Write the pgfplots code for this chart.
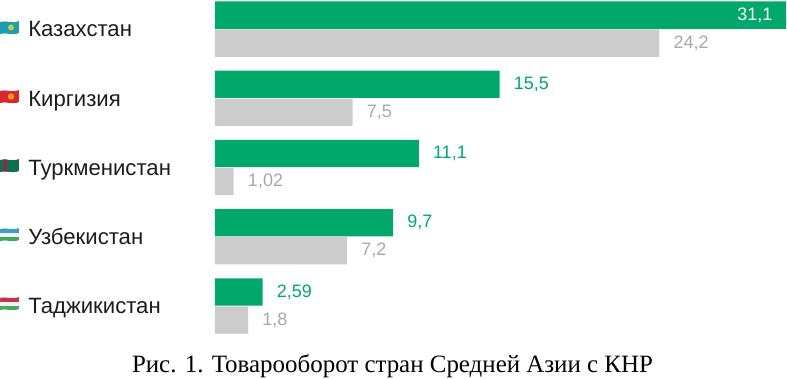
\documentclass[border=0pt]{standalone}
\usepackage{pgfplots}
\pgfplotsset{compat=1.18}
\usepackage{fontspec}
\setmainfont{Liberation Serif}
\newfontfamily\lab{Liberation Sans}
\definecolor{gr}{HTML}{00A86B}
\definecolor{gy}{HTML}{CCCCCC}
\definecolor{gyt}{HTML}{A8A8A8}
\definecolor{tx}{HTML}{1C1C1C}
\definecolor{kz}{HTML}{1F9DB0}
\definecolor{kzs}{HTML}{C8C84A}
\definecolor{kg}{HTML}{D8262C}
\definecolor{kgs}{HTML}{F0A020}
\definecolor{tm}{HTML}{0F7050}
\definecolor{tmr}{HTML}{8C2A4A}
\definecolor{uzb}{HTML}{3AA0C8}
\definecolor{uzg}{HTML}{3FA85C}
\definecolor{tjr}{HTML}{C8324A}
\definecolor{tjg}{HTML}{4AA860}
\definecolor{pale}{HTML}{F2F2F2}
\newcommand{\flagclip}{\clip (0,1) .. controls (6,-1) and (12,3) .. (19,0) -- (19,12) .. controls (12,15) and (6,11) .. (0,13) -- cycle;}
\begin{document}
\begin{tikzpicture}
\path[use as bounding box] (0,0) rectangle (590.25pt,283.5pt);
\begin{axis}[
  scale only axis, width=590.25pt, height=283.5pt,
  xmin=-11.71, xmax=31.155, ymin=-0.419, ymax=5.04,
  y dir=reverse, xbar, bar width=20.6pt,
  axis line style={draw=none}, major tick length=0pt,
  xtick=\empty, ytick={0,1,2,3,4},
  yticklabels={Казахстан,Киргизия,Туркменистан,Узбекистан,Таджикистан},
  yticklabel style={font=\lab\fontsize{16.6pt}{18pt}\selectfont, text=tx, anchor=west, inner sep=0pt, xshift=21pt, text height=11.9pt, text depth=0pt},
  clip=false,
  point meta=explicit symbolic,
  nodes near coords,
  every node near coord/.append style={font=\lab\fontsize{13.5pt}{15pt}\selectfont, inner sep=0pt, xshift=10.5pt, anchor=west},
]
\addplot[fill=gr, draw=none, bar shift=10.5pt,
  every node near coord/.append style={text=gr}]
 coordinates {(31.1,0)[] (15.5,1)[15,5] (11.1,2)[11,1] (9.7,3)[9,7] (2.59,4)[2,59]};
\addplot[fill=gy, draw=none, bar shift=-10.5pt,
  every node near coord/.append style={text=gyt}]
 coordinates {(24.2,0)[24,2] (7.5,1)[7,5] (1.02,2)[1,02] (7.2,3)[7,2] (1.8,4)[1,8]};
\addplot[fill=none, draw=none, bar shift=10.5pt,
  every node near coord/.append style={text=white, anchor=east, xshift=-20.5pt}]
 coordinates {(31.1,0)[31,1]};
\end{axis}
\begin{scope}[x=0.75pt,y=-0.75pt,yshift=283.5pt]
\node[anchor=base,font=\fontsize{18.7pt}{20pt}\selectfont] at (392.5,372) {Рис. 1. Товарооборот стран Средней Азии с КНР};
\begin{scope}[shift={(0,21)}]\flagclip
 \fill[kz] (0,-2) rectangle (19,16);
 \fill[kzs] (11,6.5) circle (3);
\end{scope}
\begin{scope}[shift={(0,90)}]\flagclip
 \fill[kg] (0,-2) rectangle (19,16);
 \fill[kgs] (11,6.5) circle (3.2);
\end{scope}
\begin{scope}[shift={(0,159)}]\flagclip
 \fill[tm] (0,-2) rectangle (19,16);
 \fill[tmr] (3,-2) rectangle (7,16);
\end{scope}
\begin{scope}[shift={(0,228)}]\flagclip
 \fill[uzb] (0,-2) rectangle (19,5);
 \fill[pale] (0,5) rectangle (19,9);
 \fill[uzg] (0,9) rectangle (19,16);
\end{scope}
\begin{scope}[shift={(0,297)}]\flagclip
 \fill[tjr] (0,-2) rectangle (19,5);
 \fill[pale] (0,5) rectangle (19,9);
 \fill[tjg] (0,9) rectangle (19,16);
\end{scope}
\end{scope}
\end{tikzpicture}
\end{document}
